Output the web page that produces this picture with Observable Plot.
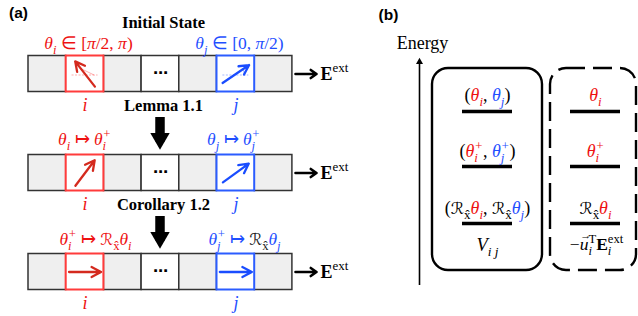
<!DOCTYPE html>
<html><head><meta charset="utf-8">
<script src="https://cdn.jsdelivr.net/npm/d3@7"></script>
<script src="https://cdn.jsdelivr.net/npm/@observablehq/plot@0.6"></script>
<style>
html,body{margin:0;padding:0;background:#fff;}
#chart{width:638px;height:316px;overflow:hidden;}
</style></head><body><div id="chart"></div>
<script>
// ---------------- data ----------------
const panelLabels = ["(a)", "(b)"];
const rowTitles = ["Initial State", "Lemma 1.1", "Corollary 1.2"];
const cellKinds = ["gray", "red", "gray", "dots", "gray", "blue", "gray"];
const redSpinDeg = [128, 53, 0];
const blueSpinDeg = [34, 36, 0];
const redStateLabels = [
  "<i>θ<sub>i</sub></i> ∈ [<i>π</i>/2, <i>π</i>)",
  "<i>θ<sub>i</sub></i> ↦ <i>θ<sub>i</sub><sup>+</sup></i>",
  "<i>θ<sub>i</sub><sup>+</sup></i> ↦ <cal>ℛ</cal><sub>x̂</sub><i>θ<sub>i</sub></i>"
];
const blueStateLabels = [
  "<i>θ<sub>j</sub></i> ∈ [0, <i>π</i>/2)",
  "<i>θ<sub>j</sub></i> ↦ <i>θ<sub>j</sub><sup>+</sup></i>",
  "<i>θ<sub>j</sub><sup>+</sup></i> ↦ <k><cal>ℛ</cal><sub>x̂</sub></k><i>θ<sub>j</sub></i>"
];
const siteLabels = ["i", "j"];
const fieldLabel = "<b>E</b><sup>ext</sup>";
const axisLabel = "Energy";
const pairLevels = [
  "(<red><i>θ<sub>i</sub></i></red>, <blue><i>θ<sub>j</sub></i></blue>)",
  "(<red><i>θ<sub>i</sub><sup>+</sup></i></red>, <blue><i>θ<sub>j</sub><sup>+</sup></i></blue>)",
  "(<cal>ℛ</cal><sub>x̂</sub><red><i>θ<sub>i</sub></i></red>, <cal>ℛ</cal><sub>x̂</sub><blue><i>θ<sub>j</sub></i></blue>)"
];
const singleLevels = [
  "<red><i>θ<sub>i</sub></i></red>",
  "<red><i>θ<sub>i</sub><sup>+</sup></i></red>",
  "<cal>ℛ</cal><sub>x̂</sub><red><i>θ<sub>i</sub></i></red>"
];
const pairTerm = "<i>V<sub>i j</sub></i>";
const singleTerm = "−<i><vec>u</vec><sub>i</sub></i><sup>T</sup><b>E</b><sub><i>i</i></sub><sup>ext</sup>";

// ---------------- layout & style ----------------
const LAY = {
  cellX0: 28, cellW: 37.7, cellH: 36,
  rowTop: [55.5, 154.5, 253.5],
  titleY: [22, 105, 204], stateY: [43, 139, 239],
  siteX: [84.5, 235.5], titleX: 163, stateX: [88, 239, 84, 233, 95, 244],
  spinLen: 32, arcR: 9,
  blockX: 159.5,
  fieldX1: 295, fieldX2: 316, fieldTextX: 320,
  axisX: 419, axisTop: 58, axisBottom: 285,
  boxY1: 68, boxY2: 270, solidBox: [432, 542], dashBox: [550, 636],
  levelY: [111, 166, 223], pairLineX: [462, 512], singleLineX: [570, 620],
  levelLabelY: [95, 151, 208], termY: 245
};
const RED = "#ee1111", BLUE = "#1f4fff";
const RED_ARROW = "#d42a1e", BLUE_ARROW = "#1a4dff";
const RED_BORDER = "#ff3b3b", BLUE_BORDER = "#2b5cff";
const SERIF = "Liberation Serif, Times New Roman, serif";
const SANS = "Liberation Sans, Arial, sans-serif";
const CAL = "DejaVu Sans, Noto Sans, sans-serif";

// ---------------- derived tables ----------------
const cellX = c => LAY.cellX0 + c * LAY.cellW;
const cells = rowTitles.flatMap((_, r) => cellKinds.map((kind, c) => ({r, c, kind})));
const cellCx = d => cellX(d.c) + LAY.cellW / 2;
const cellCy = d => LAY.rowTop[d.r] + LAY.cellH / 2;
const rows = rowTitles.map((t, r) => ({r, t}));
const rad = a => a * Math.PI / 180;
const spins = (kind, degs) => {
  const c = cellKinds.indexOf(kind);
  return degs.map((a, r) => {
    const cx = cellX(c) + LAY.cellW / 2, cy = LAY.rowTop[r] + LAY.cellH / 2;
    const h = LAY.spinLen / 2;
    return {r, a, cx, cy,
      x1: cx - h * Math.cos(rad(a)), y1: cy + h * Math.sin(rad(a)),
      x2: cx + h * Math.cos(rad(a)), y2: cy - h * Math.sin(rad(a))};
  });
};
const redSpins = spins("red", redSpinDeg), blueSpins = spins("blue", blueSpinDeg);
const refArcs = [[redSpins[0], RED_BORDER], [blueSpins[0], BLUE_BORDER]].map(([s, col]) => ({
  col, cx: s.cx, cy: s.cy + 1, a: s.a,
  x1: s.cx + LAY.arcR, y1: s.cy + 1,
  x2: s.cx + LAY.arcR * Math.cos(rad(s.a)), y2: s.cy + 1 - LAY.arcR * Math.sin(rad(s.a))
}));
const stateLabels = rowTitles.flatMap((_, r) => [
  {text: redStateLabels[r], fill: "r", x: LAY.stateX[2 * r], y: LAY.stateY[r]},
  {text: blueStateLabels[r], fill: "b", x: LAY.stateX[2 * r + 1], y: LAY.stateY[r]}
]);
const sites = rowTitles.flatMap((_, r) => siteLabels.map((s, k) => ({
  text: s, fill: k ? "b" : "r", x: LAY.siteX[k], y: LAY.rowTop[r] + LAY.cellH + 13
})));
const transitions = [1, 2];
const levels = [0, 1, 2];

// ---------------- plot ----------------
const plot = Plot.plot({
  width: 638, height: 316, margin: 0,
  x: {domain: [0, 638], range: [0, 638], axis: null},
  y: {domain: [0, 316], range: [0, 316], axis: null},
  style: {background: "white", fontFamily: SERIF, overflow: "visible"},
  color: {domain: ["gray", "dots", "r", "b"], range: ["#efefef", "#ffffff", RED, BLUE]},
  marks: [
    // panel labels
    Plot.text(panelLabels, {x: [18, 388], y: [13, 15], text: d => d, fontFamily: SANS, fontWeight: "bold", fontSize: 15.5}),
    // row titles
    Plot.text(rows, {x: LAY.titleX, y: d => LAY.titleY[d.r], text: "t", fontWeight: "bold", fontSize: 16.5}),
    // cells
    Plot.rect(cells.filter(d => d.kind === "gray" || d.kind === "dots"), {
      x1: d => cellX(d.c), x2: d => cellX(d.c) + LAY.cellW,
      y1: d => LAY.rowTop[d.r], y2: d => LAY.rowTop[d.r] + LAY.cellH,
      fill: d => d.kind === "gray" ? "gray" : "dots", stroke: "#333", strokeWidth: 1.5
    }),
    Plot.rect(cells.filter(d => d.kind === "red"), {
      x1: d => cellX(d.c), x2: d => cellX(d.c) + LAY.cellW,
      y1: d => LAY.rowTop[d.r], y2: d => LAY.rowTop[d.r] + LAY.cellH,
      fill: "#fff", stroke: RED_BORDER, strokeWidth: 2
    }),
    Plot.rect(cells.filter(d => d.kind === "blue"), {
      x1: d => cellX(d.c), x2: d => cellX(d.c) + LAY.cellW,
      y1: d => LAY.rowTop[d.r], y2: d => LAY.rowTop[d.r] + LAY.cellH,
      fill: "#fff", stroke: BLUE_BORDER, strokeWidth: 2
    }),
    Plot.text(cells.filter(d => d.kind === "dots"), {x: cellCx, y: d => cellCy(d) - 1, text: () => "⋯", fontFamily: "DejaVu Sans", fontSize: 15, fontWeight: "bold"}),
    // reference lines & angle arcs (initial state)
    Plot.ruleY(refArcs, {y: "cy", x1: d => d.cx - 13, x2: d => d.cx + 13, stroke: "col", strokeWidth: 0.7, strokeOpacity: 0.6, strokeDasharray: "2,1.5"}),
    Plot.arrow(refArcs, {x1: "x1", y1: "y1", x2: "x2", y2: "y2", bend: d => -d.a / 2, headLength: 0, stroke: "col", strokeWidth: 0.7, strokeOpacity: 0.6}),
    // spins
    Plot.arrow(redSpins, {x1: "x1", y1: "y1", x2: "x2", y2: "y2", stroke: RED_ARROW, strokeWidth: 2.3, headLength: 7, headAngle: 55}),
    Plot.arrow(blueSpins, {x1: "x1", y1: "y1", x2: "x2", y2: "y2", stroke: BLUE_ARROW, strokeWidth: 2.3, headLength: 7, headAngle: 55}),
    // state labels & site labels
    Plot.text(stateLabels, {x: "x", y: "y", text: "text", fill: "fill", fontSize: 17.5}),
    Plot.text(sites, {x: "x", y: "y", text: "text", fill: "fill", fontSize: 18, fontStyle: "italic"}),
    // block arrows between states
    Plot.ruleX(transitions, {x: LAY.blockX, y1: t => LAY.titleY[t] + 12, y2: t => LAY.rowTop[t] - 13, stroke: "black", strokeWidth: 9.5}),
    Plot.dot(transitions, {x: LAY.blockX, y: t => LAY.rowTop[t] - 16.5, symbol: "triangle", rotate: 180, r: 7.2, fill: "black"}),
    // external field
    Plot.arrow(rows, {x1: LAY.fieldX1, x2: LAY.fieldX2, y1: d => LAY.rowTop[d.r] + LAY.cellH / 2, y2: d => LAY.rowTop[d.r] + LAY.cellH / 2, stroke: "black", strokeWidth: 2.6, headLength: 7, headAngle: 70}),
    Plot.text(rows, {x: LAY.fieldTextX, y: d => LAY.rowTop[d.r] + LAY.cellH / 2, text: () => fieldLabel, textAnchor: "start", fontSize: 18}),

    // ---------- panel (b) ----------
    Plot.text([axisLabel], {x: 422, y: 43, text: d => d, fontSize: 18}),
    Plot.ruleX([axisLabel], {x: LAY.axisX, y1: LAY.axisBottom, y2: LAY.axisTop + 6, stroke: "black", strokeWidth: 1.6}),
    Plot.dot([axisLabel], {x: LAY.axisX, y: LAY.axisTop + 3.4, symbol: "triangle", r: 2.6, fill: "black"}),
    Plot.rect([0], {x1: LAY.solidBox[0], x2: LAY.solidBox[1], y1: LAY.boxY1, y2: LAY.boxY2, rx: 16, fill: "none", stroke: "black", strokeWidth: 2.4}),
    Plot.rect([0], {x1: LAY.dashBox[0], x2: LAY.dashBox[1], y1: LAY.boxY1, y2: LAY.boxY2, rx: 16, fill: "none", stroke: "black", strokeWidth: 2.4, strokeDasharray: "19,8"}),
    Plot.ruleY(levels, {y: l => LAY.levelY[l], x1: LAY.pairLineX[0], x2: LAY.pairLineX[1], stroke: "black", strokeWidth: 3.6}),
    Plot.ruleY(levels, {y: l => LAY.levelY[l], x1: LAY.singleLineX[0], x2: LAY.singleLineX[1], stroke: "black", strokeWidth: 3.6}),
    Plot.text(levels, {x: (LAY.pairLineX[0] + LAY.pairLineX[1]) / 2, y: l => LAY.levelLabelY[l], text: l => pairLevels[l], fontSize: 18}),
    Plot.text(levels, {x: (LAY.singleLineX[0] + LAY.singleLineX[1]) / 2, y: l => LAY.levelLabelY[l], text: l => singleLevels[l], fontSize: 18}),
    Plot.text([pairTerm], {x: (LAY.pairLineX[0] + LAY.pairLineX[1]) / 2, y: LAY.termY, text: d => d, fontSize: 18.5}),
    Plot.text([singleTerm], {x: (LAY.singleLineX[0] + LAY.singleLineX[1]) / 2 + 1, y: LAY.termY - 1, text: d => d, fontSize: 17.5})
  ]
});
document.getElementById("chart").append(plot);

// ---------------- rich text (sub/superscripts, colours, vector arrow) ----------------
const SVGNS = "http://www.w3.org/2000/svg";
const tagColor = {red: RED, blue: BLUE, k: "#222"};
function renderRich(textEl, markup) {
  const tpl = document.createElement("template");
  tpl.innerHTML = markup;
  textEl.textContent = "";
  const base = parseFloat(getComputedStyle(textEl).fontSize) || 16;
  let cur = 0, lastSub = null, pendingDx = 0, lastSpan = null;
  function span(s, st, shift, scale) {
    const ts = document.createElementNS(SVGNS, "tspan");
    ts.textContent = s;
    ts.setAttribute("font-size", (base * scale).toFixed(2));
    if (st.italic) ts.setAttribute("font-style", "italic");
    if (st.bold) ts.setAttribute("font-weight", "bold");
    if (st.fill) ts.setAttribute("fill", st.fill);
    if (st.family) ts.setAttribute("font-family", st.family);
    const target = shift * base;
    if (Math.abs(target - cur) > 1e-6) ts.setAttribute("dy", (target - cur).toFixed(2));
    cur = target;
    textEl.appendChild(ts);
    return ts;
  }
  function walk(node, st) {
    if (node.nodeType === 3) {
      const s = node.nodeValue;
      if (!s) return;
      const ts = span(s, st, st.shift, st.scale);
      let dx = pendingDx;
      if (st.kind === "sup" && lastSub) dx -= lastSub.getComputedTextLength();
      if (dx) ts.setAttribute("dx", dx.toFixed(2));
      pendingDx = 0;
      lastSub = st.kind === "sub" ? ts : null;
      lastSpan = ts;
      return;
    }
    if (node.nodeType !== 1 && node.nodeType !== 11) return;
    let ns = st, tag = null;
    if (node.nodeType === 1) {
      tag = node.tagName.toLowerCase();
      ns = {...st};
      if (tag === "i") ns.italic = true;
      else if (tag === "b") ns.bold = true;
      else if (tag === "cal") { ns.family = CAL; ns.scale = st.scale * 0.92; }
      else if (tag === "sub") { ns.shift = st.shift + 0.27 * st.scale; ns.scale = st.scale * 0.72; ns.kind = "sub"; }
      else if (tag === "sup") { ns.shift = st.shift - 0.42 * st.scale; ns.scale = st.scale * 0.72; ns.kind = "sup"; }
      else if (tagColor[tag]) ns.fill = tagColor[tag];
    }
    node.childNodes.forEach(k => walk(k, ns));
    if (tag === "vec" && lastSpan) {
      const w = lastSpan.getComputedTextLength();
      const a = span("→", {...st, italic: false}, st.shift - 0.62 * st.scale, st.scale * 0.62);
      const aw = a.getComputedTextLength();
      a.setAttribute("dx", (-(w + aw) / 2 + 1.5).toFixed(2));
      pendingDx = (w - aw) / 2 - 1.5;
      lastSub = null;
    }
  }
  walk(tpl.content, {scale: 1, shift: 0, italic: false, bold: false, fill: null, kind: null, family: null});
}
plot.querySelectorAll("text").forEach(t => {
  const s = t.textContent;
  if (s.includes("<")) renderRich(t, s);
});
</script>
</body></html>
